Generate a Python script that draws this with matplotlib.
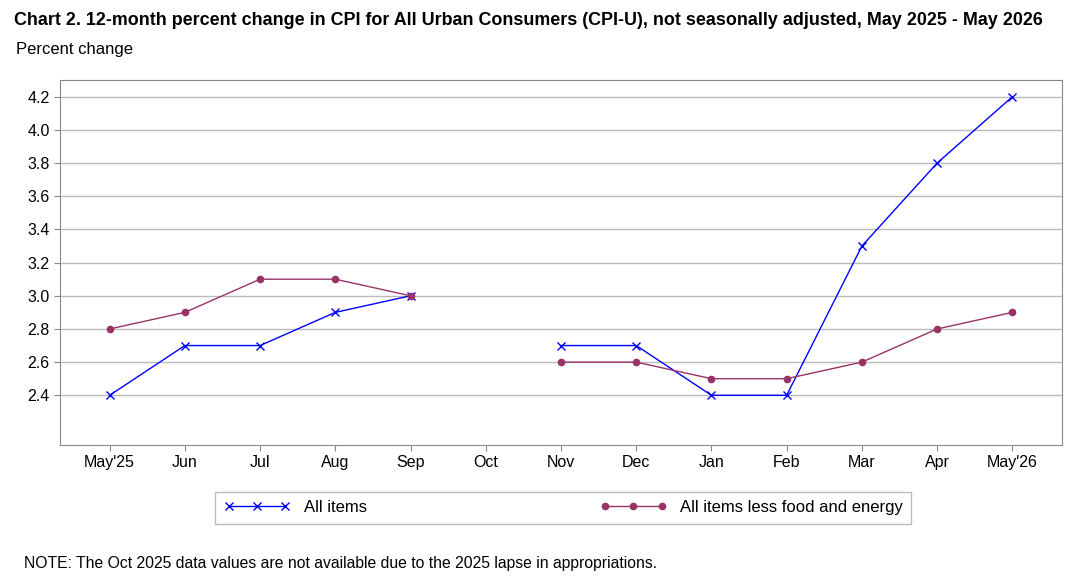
import numpy as np
import matplotlib.pyplot as plt

months = ['May\'25', 'Jun', 'Jul', 'Aug', 'Sep', 'Oct', 'Nov', 'Dec',
          'Jan', 'Feb', 'Mar', 'Apr', 'May\'26']
all_items = [2.4, 2.7, 2.7, 2.9, 3.0, np.nan, 2.7, 2.7, 2.4, 2.4, 3.3, 3.8, 4.2]
core = [2.8, 2.9, 3.1, 3.1, 3.0, np.nan, 2.6, 2.6, 2.5, 2.5, 2.6, 2.8, 2.9]
yticks = [2.4, 2.6, 2.8, 3.0, 3.2, 3.4, 3.6, 3.8, 4.0, 4.2]


def main():
    plt.rcParams['font.family'] = ['Liberation Sans', 'DejaVu Sans']
    fig = plt.figure(figsize=(10.83, 5.81), dpi=100)
    ax = fig.add_axes([0.0554, 0.234, 0.9252, 0.628])
    x = np.arange(len(months))

    l1, = ax.plot(x, all_items, color='#0000ff', lw=1, marker='x', ms=6,
                  label='All items')
    l2, = ax.plot(x, core, color='#993366', lw=1, marker='o', ms=4.5,
                  label='All items less food and energy')

    ax.set_xlim(-0.66, 12.66)
    ax.set_ylim(2.1, 4.3)
    ax.set_xticks(x)
    ax.set_xticklabels(months)
    ax.set_yticks(yticks)
    ax.set_yticklabels([f'{v:.1f}' for v in yticks])
    ax.tick_params(labelsize=11.5, length=4, color='#888888')
    ax.grid(axis='y', color='#bbbbbb', lw=1)
    ax.set_axisbelow(True)
    for s in ax.spines.values():
        s.set_color('#888888')

    fig.text(0.013, 0.965, 'Chart 2. 12-month percent change in CPI for All Urban Consumers '
             '(CPI-U), not seasonally adjusted, May 2025 - May 2026',
             fontsize=12.9, fontweight='bold', va='center')
    fig.text(0.015, 0.915, 'Percent change', fontsize=12, va='center')
    fig.text(0.022, 0.03, 'NOTE: The Oct 2025 data values are not available due to the '
             '2025 lapse in appropriations.', fontsize=11.3, va='center')

    leg = fig.legend(handles=[l1, l2], loc='center', bbox_to_anchor=(0.52, 0.126),
                     ncol=2, fontsize=12, frameon=True, fancybox=False, numpoints=3,
                     handlelength=4, columnspacing=14, borderpad=0.5, borderaxespad=0)
    leg.get_frame().set_edgecolor('#aaaaaa')

    fig.savefig('out.png', dpi=100)


if __name__ == '__main__':
    main()
